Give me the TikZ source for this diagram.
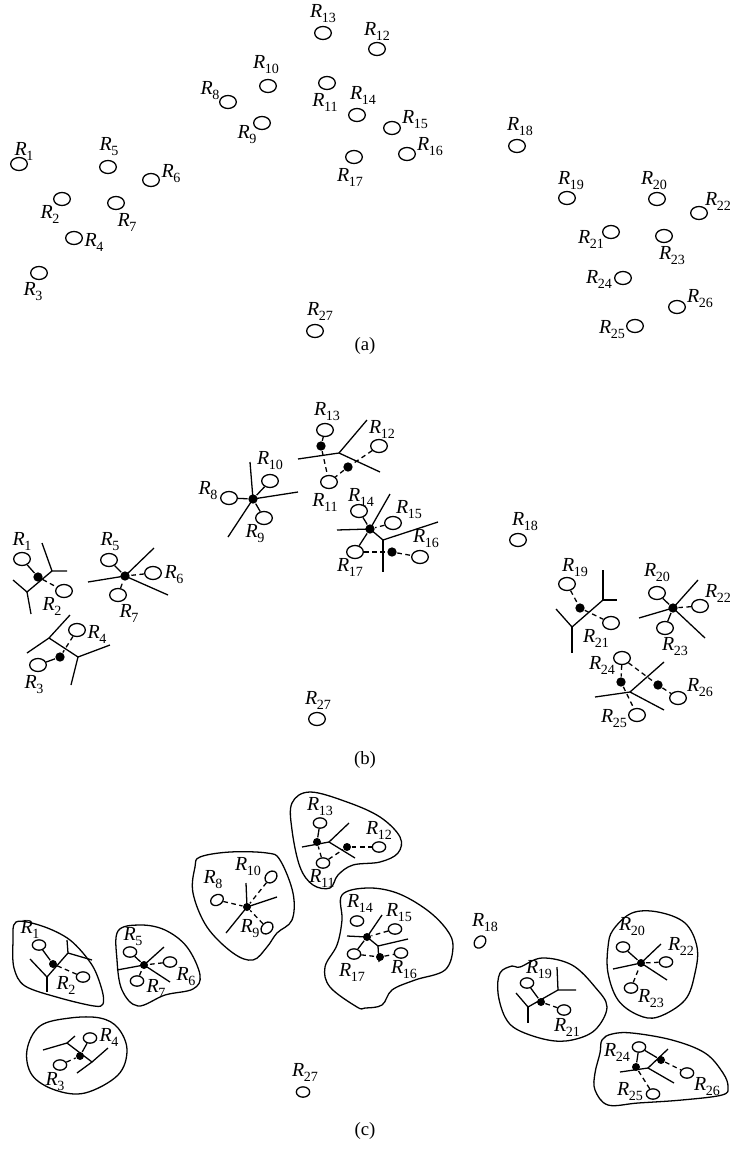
\documentclass[tikz,border=0pt]{standalone}
\usepackage{fontspec}
\setmainfont{Liberation Serif}
\usepackage{tikz}
\usetikzlibrary{shapes.geometric}

\newcommand{\rl}[1]{\textit{R}\kern-0.3pt\raisebox{-0.55ex}{\fontsize{12}{13}\selectfont #1}}

\begin{document}
\begin{tikzpicture}[x=0.03cm,y=-0.03cm,line width=1.1pt,
   site/.style={ellipse,draw,line width=1.1pt,minimum width=5mm,minimum height=3.9mm,inner sep=0pt},
   csite/.style={ellipse,draw,line width=1.1pt,minimum width=4mm,minimum height=3.1mm,inner sep=0pt},
   hub/.style={circle,fill,minimum size=2.8mm,inner sep=0pt},
   chub/.style={circle,fill,minimum size=2.4mm,inner sep=0pt},
   lab/.style={inner sep=0pt,font=\fontsize{17}{19}\selectfont},
   capt/.style={inner sep=0pt,font=\fontsize{16}{18}\selectfont},
   dsh/.style={dash pattern=on 4pt off 3pt}]
  \useasboundingbox (0,0) rectangle (730,1149);

  % (a) the sites
  \node[site] (a1) at (19,164) {}; \node[lab] (la1) at (24,151) {\rl{1}};
  \node[site] (a2) at (62,199) {}; \node[lab] (la2) at (50,214) {\rl{2}};
  \node[site] (a3) at (39,273) {}; \node[lab] (la3) at (33,292) {\rl{3}};
  \node[site] (a4) at (74,238) {}; \node[lab] (la4) at (94,242) {\rl{4}};
  \node[site] (a5) at (108,167) {}; \node[lab] (la5) at (109,147) {\rl{5}};
  \node[site] (a6) at (151,180) {}; \node[lab] (la6) at (171,174) {\rl{6}};
  \node[site] (a7) at (116,203) {}; \node[lab] (la7) at (127,222) {\rl{7}};
  \node[site] (a8) at (228,102) {}; \node[lab] (la8) at (210,91) {\rl{8}};
  \node[site] (a9) at (262,123) {}; \node[lab] (la9) at (247,135) {\rl{9}};
  \node[site] (a10) at (268,86) {}; \node[lab] (la10) at (266,65) {\rl{10}};
  \node[site] (a11) at (327,83) {}; \node[lab] (la11) at (325,102) {\rl{11}};
  \node[site] (a12) at (377,49) {}; \node[lab] (la12) at (377,31) {\rl{12}};
  \node[site] (a13) at (323,33) {}; \node[lab] (la13) at (323,14) {\rl{13}};
  \node[site] (a14) at (357,115) {}; \node[lab] (la14) at (363,95) {\rl{14}};
  \node[site] (a15) at (392,128) {}; \node[lab] (la15) at (415,120) {\rl{15}};
  \node[site] (a16) at (407,154) {}; \node[lab] (la16) at (430,147) {\rl{16}};
  \node[site] (a17) at (354,157) {}; \node[lab] (la17) at (350,177) {\rl{17}};
  \node[site] (a18) at (517,146) {}; \node[lab] (la18) at (520,127) {\rl{18}};
  \node[site] (a19) at (567,198) {}; \node[lab] (la19) at (571,181) {\rl{19}};
  \node[site] (a20) at (657,199) {}; \node[lab] (la20) at (654,181) {\rl{20}};
  \node[site] (a21) at (611,232) {}; \node[lab] (la21) at (591,239) {\rl{21}};
  \node[site] (a22) at (699,213) {}; \node[lab] (la22) at (718,201) {\rl{22}};
  \node[site] (a23) at (664,236) {}; \node[lab] (la23) at (672,256) {\rl{23}};
  \node[site] (a24) at (623,278) {}; \node[lab] (la24) at (599,279) {\rl{24}};
  \node[site] (a25) at (635,326) {}; \node[lab] (la25) at (612,330) {\rl{25}};
  \node[site] (a26) at (677,307) {}; \node[lab] (la26) at (700,299) {\rl{26}};
  \node[site] (a27) at (315,331) {}; \node[lab] (la27) at (320,311) {\rl{27}};
  \node[capt] (capa) at (365,346) {(a)};

  % (b) sites, hubs and cell edges
  \node[site] (b1) at (22,559) {}; \node[lab] (lb1) at (22,541) {\rl{1}};
  \node[site] (b2) at (64,591) {}; \node[lab] (lb2) at (52,606) {\rl{2}};
  \node[site] (b3) at (38,665) {}; \node[lab] (lb3) at (34,685) {\rl{3}};
  \node[site] (b4) at (77,630) {}; \node[lab] (lb4) at (97,634) {\rl{4}};
  \node[site] (b5) at (109,560) {}; \node[lab] (lb5) at (110,542) {\rl{5}};
  \node[site] (b6) at (153,573) {}; \node[lab] (lb6) at (174,575) {\rl{6}};
  \node[site] (b7) at (118,595) {}; \node[lab] (lb7) at (129,613) {\rl{7}};
  \node[site] (b8) at (229,498) {}; \node[lab] (lb8) at (208,491) {\rl{8}};
  \node[site] (b9) at (264,518) {}; \node[lab] (lb9) at (255,534) {\rl{9}};
  \node[site] (b10) at (270,481) {}; \node[lab] (lb10) at (270,461) {\rl{10}};
  \node[site] (b11) at (329,482) {}; \node[lab] (lb11) at (325,502) {\rl{11}};
  \node[site] (b12) at (379,446) {}; \node[lab] (lb12) at (382,429) {\rl{12}};
  \node[site] (b13) at (325,430) {}; \node[lab] (lb13) at (327,412) {\rl{13}};
  \node[site] (b14) at (359,511) {}; \node[lab] (lb14) at (361,497) {\rl{14}};
  \node[site] (b15) at (393,523) {}; \node[lab] (lb15) at (409,510) {\rl{15}};
  \node[site] (b16) at (420,557) {}; \node[lab] (lb16) at (426,539) {\rl{16}};
  \node[site] (b17) at (355,552) {}; \node[lab] (lb17) at (350,567) {\rl{17}};
  \node[site] (b18) at (518,540) {}; \node[lab] (lb18) at (525,522) {\rl{18}};
  \node[site] (b19) at (567,584) {}; \node[lab] (lb19) at (575,568) {\rl{19}};
  \node[site] (b20) at (657,593) {}; \node[lab] (lb20) at (657,573) {\rl{20}};
  \node[site] (b21) at (611,623) {}; \node[lab] (lb21) at (596,638) {\rl{21}};
  \node[site] (b22) at (700,606) {}; \node[lab] (lb22) at (718,593) {\rl{22}};
  \node[site] (b23) at (665,628) {}; \node[lab] (lb23) at (675,647) {\rl{23}};
  \node[site] (b24) at (622,658) {}; \node[lab] (lb24) at (602,665) {\rl{24}};
  \node[site] (b25) at (637,715) {}; \node[lab] (lb25) at (614,719) {\rl{25}};
  \node[site] (b26) at (678,698) {}; \node[lab] (lb26) at (700,688) {\rl{26}};
  \node[site] (b27) at (317,719) {}; \node[lab] (lb27) at (318,700) {\rl{27}};

  \node[hub] (bp12) at (38,577) {};
  \node[hub] (bp57) at (125,576) {};
  \node[hub] (bp34) at (60,657) {};
  \node[hub] (bp810) at (253,499) {};
  \node[hub] (bp13) at (321,446) {};
  \node[hub] (bp1211) at (348,467) {};
  \node[hub] (bp14) at (370,529) {};
  \node[hub] (bp16) at (392,552) {};
  \node[hub] (bp19) at (580,608) {};
  \node[hub] (bp20) at (673,608) {};
  \node[hub] (bp24) at (621,682) {};
  \node[hub] (bp26) at (658,685) {};

  \draw (42,543) -- (52,571) -- (67,571);
  \draw (52,571) -- (27,592) -- (13,580);
  \draw (27,592) -- (31,614);
  \draw (bp57.center) -- (154,548);
  \draw (bp57.center) -- (88,582);
  \draw (bp57.center) -- (168,595);
  \draw (27,653) -- (49,638) -- (70,615);
  \draw (49,638) -- (78,657) -- (110,645);
  \draw (78,657) -- (71,685);
  \draw (bp810.center) -- (250,462);
  \draw (bp810.center) -- (298,492);
  \draw (bp810.center) -- (228,537);
  \draw (298,459) -- (339,453) -- (367,420);
  \draw (339,453) -- (380,472);
  \draw (337,530) -- (bp14.center) -- (390,494);
  \draw (bp14.center) -- (383,540) -- (438,522);
  \draw (383,540) -- (383,572);
  \draw (603,570) -- (603,600) -- (617,600);
  \draw (603,600) -- (572,627) -- (556,609);
  \draw (572,627) -- (572,653);
  \draw (bp20.center) -- (698,580);
  \draw (bp20.center) -- (639,618);
  \draw (bp20.center) -- (705,638);
  \draw (595,697) -- (630,692) -- (664,710);
  \draw (630,692) -- (664,662);

  \draw (b1) -- (bp12); \draw[dsh] (bp12) -- (b2);
  \draw (b5) -- (bp57); \draw[dsh] (b6) -- (bp57); \draw[dsh] (b7) -- (bp57);
  \draw (b3) -- (bp34); \draw[dsh] (b4) -- (bp34);
  \draw (b8) -- (bp810); \draw (b10) -- (bp810); \draw (b9) -- (bp810);
  \draw (b13) -- (bp13); \draw[dsh] (bp13) -- (b11);
  \draw[dsh] (b12) -- (bp1211); \draw[dsh] (bp1211) -- (b11);
  \draw (b14) -- (bp14); \draw[dsh] (b15) -- (bp14); \draw (b17) -- (bp14);
  \draw[dsh] (b17) -- (bp16); \draw[dsh] (bp16) -- (b16);
  \draw[dsh] (b19) -- (bp19); \draw[dsh] (bp19) -- (b21);
  \draw (b20) -- (bp20); \draw[dsh] (b22) -- (bp20); \draw (b23) -- (bp20);
  \draw[dsh] (b24) -- (bp24); \draw[dsh] (bp24) -- (b25);
  \draw[dsh] (b24) -- (bp26); \draw[dsh] (bp26) -- (b26);
  \node[capt] (capb) at (365,760) {(b)};

  % (c) the grouped cells
  \node[csite] (c1) at (39,945) {}; \node[lab] (lc1) at (30,929) {\rl{1}};
  \node[csite] (c2) at (83,977) {}; \node[lab] (lc2) at (66,985) {\rl{2}};
  \node[csite] (c3) at (60,1065) {}; \node[lab] (lc3) at (55,1082) {\rl{3}};
  \node[csite] (c4) at (90,1038) {}; \node[lab] (lc4) at (109,1037) {\rl{4}};
  \node[csite] (c5) at (130,952) {}; \node[lab] (lc5) at (133,937) {\rl{5}};
  \node[csite] (c6) at (170,962) {}; \node[lab] (lc6) at (186,977) {\rl{6}};
  \node[csite] (c7) at (137,981) {}; \node[lab] (lc7) at (156,988) {\rl{7}};
  \node[csite,rotate=30] (c8) at (217,900) {}; \node[lab] (lc8) at (213,880) {\rl{8}};
  \node[csite,rotate=45] (c9) at (267,928) {}; \node[lab] (lc9) at (250,929) {\rl{9}};
  \node[csite,rotate=45] (c10) at (271,877) {}; \node[lab] (lc10) at (248,867) {\rl{10}};
  \node[csite] (c11) at (323,863) {}; \node[lab] (lc11) at (322,878) {\rl{11}};
  \node[csite] (c12) at (379,847) {}; \node[lab] (lc12) at (379,830) {\rl{12}};
  \node[csite] (c13) at (320,823) {}; \node[lab] (lc13) at (320,807) {\rl{13}};
  \node[csite] (c14) at (357,921) {}; \node[lab] (lc14) at (360,903) {\rl{14}};
  \node[csite] (c15) at (395,929) {}; \node[lab] (lc15) at (399,913) {\rl{15}};
  \node[csite] (c16) at (401,953) {}; \node[lab] (lc16) at (404,970) {\rl{16}};
  \node[csite] (c17) at (354,954) {}; \node[lab] (lc17) at (352,972) {\rl{17}};
  \node[csite,rotate=50] (c18) at (480,942) {}; \node[lab] (lc18) at (485,923) {\rl{18}};
  \node[csite] (c19) at (527,983) {}; \node[lab] (lc19) at (539,970) {\rl{19}};
  \node[csite] (c20) at (623,947) {}; \node[lab] (lc20) at (632,927) {\rl{20}};
  \node[csite] (c21) at (564,1010) {}; \node[lab] (lc21) at (567,1027) {\rl{21}};
  \node[csite] (c22) at (666,962) {}; \node[lab] (lc22) at (681,946) {\rl{22}};
  \node[csite] (c23) at (631,988) {}; \node[lab] (lc23) at (651,999) {\rl{23}};
  \node[csite] (c24) at (639,1047) {}; \node[lab] (lc24) at (617,1052) {\rl{24}};
  \node[csite] (c25) at (653,1094) {}; \node[lab] (lc25) at (630,1092) {\rl{25}};
  \node[csite] (c26) at (687,1073) {}; \node[lab] (lc26) at (707,1087) {\rl{26}};
  \node[csite] (c27) at (303,1092) {}; \node[lab] (lc27) at (305,1072) {\rl{27}};

  \node[chub] (cp1) at (53,964) {};
  \node[chub] (cp3) at (80,1056) {};
  \node[chub] (cp5) at (144,965) {};
  \node[chub] (cp8) at (247,907) {};
  \node[chub] (cp13) at (317,842) {};
  \node[chub] (cp12) at (347,847) {};
  \node[chub] (cp14) at (367,937) {};
  \node[chub] (cp16) at (380,957) {};
  \node[chub] (cp19) at (541,1002) {};
  \node[chub] (cp20) at (641,963) {};
  \node[chub] (cp24) at (636,1067) {};
  \node[chub] (cp26) at (661,1060) {};

  \draw (67,940) -- (68,953) -- (92,960);
  \draw (68,953) -- (47,977) -- (30,959);
  \draw (47,977) -- (47,992);
  \draw (43,1050) -- (67,1043) -- (75,1036);
  \draw (67,1043) -- (92,1062) -- (108,1048);
  \draw (92,1062) -- (77,1073);
  \draw (cp5.center) -- (164,947);
  \draw (cp5.center) -- (117,970);
  \draw (cp5.center) -- (170,982);
  \draw (cp8.center) -- (246,883);
  \draw (cp8.center) -- (277,897);
  \draw (cp8.center) -- (226,933);
  \draw (302,847) -- (329,842) -- (349,823);
  \draw (329,842) -- (355,858);
  \draw (347,936) -- (cp14.center) -- (382,915);
  \draw (cp14.center) -- (378,946) -- (408,939);
  \draw (378,946) -- (379,962);
  \draw (557,967) -- (558,990) -- (576,990);
  \draw (558,990) -- (528,1007) -- (516,993);
  \draw (528,1007) -- (528,1023);
  \draw (cp20.center) -- (661,944);
  \draw (cp20.center) -- (613,969);
  \draw (cp20.center) -- (667,980);
  \draw (620,1072) -- (648,1068) -- (674,1083);
  \draw (648,1068) -- (668,1049);

  \draw (c1) -- (cp1); \draw[dsh] (cp1) -- (c2);
  \draw (c4) -- (cp3); \draw[dsh] (c3) -- (cp3);
  \draw (c5) -- (cp5); \draw[dsh] (c6) -- (cp5); \draw[dsh] (c7) -- (cp5);
  \draw[dsh] (c8) -- (cp8); \draw[dsh] (c10) -- (cp8); \draw[dsh] (c9) -- (cp8);
  \draw (c13) -- (cp13); \draw[dsh] (c11) -- (cp13);
  \draw[dsh] (c11) -- (cp12); \draw[dsh] (cp12) -- (c12);
  \draw[dsh] (c15) -- (cp14); \draw (c17) -- (cp14);
  \draw[dsh] (c17) -- (cp16); \draw[dsh] (cp16) -- (c16);
  \draw (c19) -- (cp19); \draw[dsh] (cp19) -- (c21);
  \draw (c20) -- (cp20); \draw[dsh] (c22) -- (cp20); \draw[dsh] (c23) -- (cp20);
  \draw (c24) -- (cp24); \draw[dsh] (cp24) -- (c25);
  \draw (c24) -- (cp26); \draw[dsh] (cp26) -- (c26);

  % group outlines
  \draw plot[smooth cycle,tension=0.55] coordinates {(16,922) (42,926) (70,940) (92,965) (102,990) (103,1004) (94,1006) (60,998) (25,986) (14,968) (13,942)};
  \draw plot[smooth cycle,tension=0.6] coordinates {(27,1050) (40,1026) (70,1018) (100,1018) (118,1028) (127,1050) (118,1075) (85,1093) (55,1090) (32,1075)};
  \draw plot[smooth cycle,tension=0.6] coordinates {(118,931) (140,925) (165,930) (187,947) (200,975) (193,989) (165,995) (138,1006) (122,990) (117,960)};
  \draw plot[smooth cycle,tension=0.6] coordinates {(200,857) (230,852) (267,853) (280,860) (293,893) (292,920) (277,933) (267,947) (253,960) (233,953) (207,927) (193,893) (195,867)};
  \draw plot[smooth cycle,tension=0.6] coordinates {(292,803) (310,792) (347,802) (380,817) (400,837) (398,853) (380,862) (353,865) (338,875) (330,888) (313,885) (300,867) (292,830)};
  \draw plot[smooth cycle,tension=0.6] coordinates {(342,895) (367,888) (397,893) (427,910) (447,930) (453,947) (445,970) (415,980) (392,990) (382,1005) (365,1008) (357,1007) (330,987) (325,967) (337,945) (342,920)};
  \draw plot[smooth cycle,tension=0.6] coordinates {(500,973) (512,966) (520,967) (542,958) (572,965) (595,987) (607,1007) (595,1030) (572,1040) (548,1040) (518,1030) (505,1017) (498,993)};
  \draw plot[smooth cycle,tension=0.6] coordinates {(613,930) (632,913) (658,912) (685,923) (697,947) (695,973) (685,1000) (658,1017) (638,1015) (618,1000) (608,973) (608,947)};
  \draw plot[smooth cycle,tension=0.6] coordinates {(602,1040) (612,1034) (632,1033) (672,1040) (705,1053) (723,1073) (728,1087) (722,1095) (682,1100) (638,1103) (608,1105) (595,1090) (595,1073) (600,1053)};
  \node[capt] (capc) at (365,1131) {(c)};
\end{tikzpicture}
\end{document}
